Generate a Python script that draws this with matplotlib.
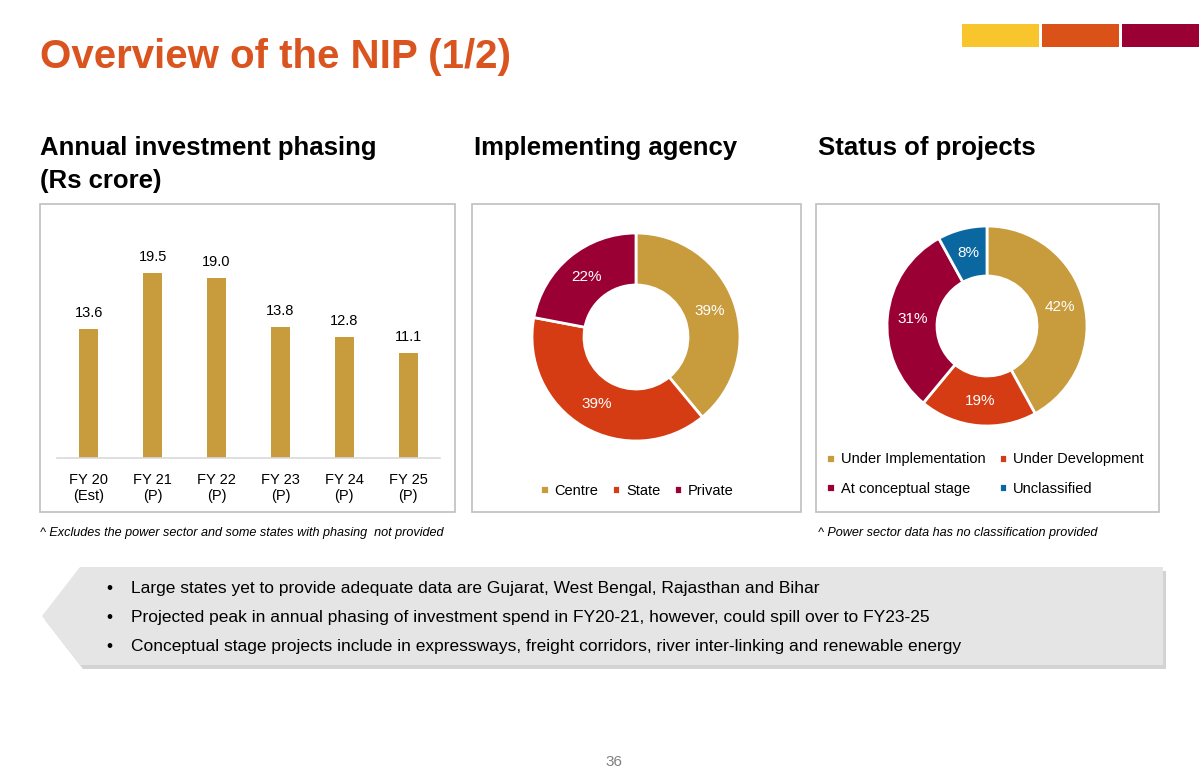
import matplotlib
matplotlib.use("Agg")
import matplotlib.pyplot as plt
from matplotlib.patches import Rectangle, Polygon

plt.rcParams['font.family'] = ['Liberation Sans', 'DejaVu Sans']

# ── data
years = ['FY 20\n(Est)', 'FY 21\n(P)', 'FY 22\n(P)', 'FY 23\n(P)', 'FY 24\n(P)', 'FY 25\n(P)']
invest = [13.6, 19.5, 19.0, 13.8, 12.8, 11.1]

agency_labels = ['Centre', 'State', 'Private']
agency_share = [39, 39, 22]

status_labels = ['Under Implementation', 'Under Development', 'At conceptual stage', 'Unclassified']
status_share = [42, 19, 31, 8]

bullets = [
    'Large states yet to provide adequate data are Gujarat, West Bengal, Rajasthan and Bihar',
    'Projected peak in annual phasing of investment spend in FY20-21, however, could spill over to FY23-25',
    'Conceptual stage projects include in expressways, freight corridors, river inter-linking and renewable energy',
]

GOLD = '#C89B3C'
RED = '#D63C14'
CRIMSON = '#9B0034'
BLUE = '#0A67A0'
ORANGE_T = '#D9541E'

W, H = 1200, 776
fig = plt.figure(figsize=(W / 100, H / 100), dpi=100)


def px(x0, y0, x1, y1):
    return [x0 / W, 1 - y1 / H, (x1 - x0) / W, (y1 - y0) / H]


# background canvas in pixel coordinates
bg = fig.add_axes([0, 0, 1, 1], zorder=0)
bg.set_xlim(0, W)
bg.set_ylim(H, 0)
bg.axis('off')

# title + colour strip
bg.text(40, 57, 'Overview of the NIP (1/2)', fontsize=29, fontweight='bold',
        color=ORANGE_T, va='center', ha='left')
for x0, c in [(962, '#F9C52C'), (1042, '#DA5218'), (1122, '#9B0034')]:
    bg.add_patch(Rectangle((x0, 24), 77, 23, color=c, lw=0))

# section headings
hs = 18.5
bg.text(40, 148, 'Annual investment phasing', fontsize=hs, fontweight='bold', va='center')
bg.text(40, 181, '(Rs crore)', fontsize=hs, fontweight='bold', va='center')
bg.text(474, 148, 'Implementing agency', fontsize=hs, fontweight='bold', va='center')
bg.text(818, 148, 'Status of projects', fontsize=hs, fontweight='bold', va='center')

# panel boxes
for x0, x1 in [(40, 455), (472, 801), (816, 1159)]:
    bg.add_patch(Rectangle((x0, 204), x1 - x0, 308, fill=False, ec='#BFBFBF', lw=1.2))

# footnotes
bg.text(40, 533, '^ Excludes the power sector and some states with phasing  not provided',
        fontsize=9.1, style='italic', va='center')
bg.text(818, 533, '^ Power sector data has no classification provided',
        fontsize=9.1, style='italic', va='center')

# callout arrow box with shadow
shape = [(80, 567), (1163, 567), (1163, 665), (80, 665), (42, 616)]
bg.add_patch(Polygon([(x + 3, y + 4) for x, y in shape], closed=True,
                     fc='#A8A8A8', ec='none', alpha=0.5))
bg.add_patch(Polygon(shape, closed=True, fc='#E5E5E5', ec='none'))
for i, b in enumerate(bullets):
    y = 588 + i * 29.5
    bg.text(106, y, '\u2022', fontsize=12.5, va='center')
    bg.text(131, y, b, fontsize=12.5, va='center')

bg.text(614, 762, '36', fontsize=11, color='#808080', ha='center', va='center')

# ── bar chart
ax1 = fig.add_axes(px(57, 215, 440, 458), zorder=2)
ax1.patch.set_alpha(0)
x = range(len(years))
ax1.bar(x, invest, width=0.3, color=GOLD)
for xi, v in zip(x, invest):
    ax1.text(xi, v + 0.9, f'{v:.1f}', ha='center', va='bottom', fontsize=10.5)
ax1.set_xlim(-0.5, 5.5)
ax1.set_ylim(0, 25.6)
ax1.set_xticks(list(x))
ax1.set_xticklabels(years, fontsize=10.5, linespacing=1.15)
ax1.tick_params(axis='x', length=0, pad=11)
ax1.set_yticks([])
for s in ['top', 'right', 'left']:
    ax1.spines[s].set_visible(False)
ax1.spines['bottom'].set_color('#D9D9D9')
ax1.spines['bottom'].set_linewidth(1.2)


def donut(cx, cy, r, shares, colors):
    ax = fig.add_axes(px(cx - r, cy - r, cx + r, cy + r), zorder=2)
    wedges, _, autotexts = ax.pie(shares, colors=colors, startangle=90, counterclock=False,
                                  radius=1, autopct='%d%%', pctdistance=0.75,
                                  wedgeprops=dict(width=0.5, edgecolor='white', linewidth=2),
                                  textprops=dict(color='white', fontsize=11))
    ax.set_xlim(-1, 1)
    ax.set_ylim(-1, 1)
    return ax, wedges


ax2, w2 = donut(636, 337, 104, agency_share, [GOLD, RED, CRIMSON])
fig.legend(w2, agency_labels, loc='center', bbox_to_anchor=(637 / W, 1 - 491 / H), ncol=3,
           frameon=False, fontsize=10.5, handlelength=0.6, handleheight=0.6,
           handletextpad=0.4, columnspacing=0.9)

ax3, w3 = donut(987, 326, 100, status_share, [GOLD, RED, CRIMSON, BLUE])
leg = fig.legend([w3[0], w3[2], w3[1], w3[3]],
                 [status_labels[0], status_labels[2], status_labels[1], status_labels[3]],
                 loc='center', bbox_to_anchor=(985 / W, 1 - 474 / H), ncol=2,
                 frameon=False, fontsize=10.5, handlelength=0.6, handleheight=0.6,
                 handletextpad=0.4, columnspacing=0.9, labelspacing=1.05)

fig.savefig('out.png', dpi=100)
